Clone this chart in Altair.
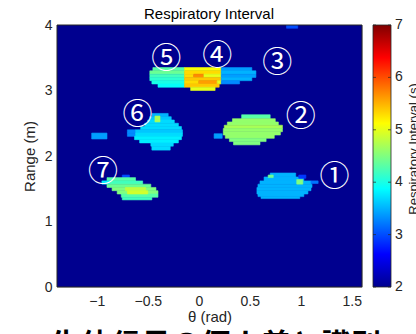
import altair as alt
import pandas as pd

# ---- data ----
# heat-map spans: (range_lo, range_hi, theta_lo, theta_hi, respiratory interval in s)
background = [(0.0, 4.0, -1.39, 1.60, 2.0)]

blob_top = [  # persons 5, 4, 3
    (3.30, 3.35, -0.45, -0.14, 4.3), (3.30, 3.35, -0.14, 0.22, 5.1), (3.30, 3.35, 0.22, 0.52, 3.4),
    (3.25, 3.30, -0.48, -0.14, 4.4), (3.25, 3.30, -0.14, 0.22, 5.3), (3.25, 3.30, 0.22, 0.56, 3.5),
    (3.20, 3.25, -0.48, -0.14, 4.2), (3.20, 3.25, -0.14, -0.05, 5.3), (3.20, 3.25, -0.05, 0.05, 5.7),
    (3.20, 3.25, 0.05, 0.22, 5.0), (3.20, 3.25, 0.22, 0.56, 3.4),
    (3.15, 3.20, -0.48, -0.14, 4.1), (3.15, 3.20, -0.14, 0.22, 5.4), (3.15, 3.20, 0.22, 0.52, 3.5),
    (3.10, 3.15, -0.46, -0.14, 4.0), (3.10, 3.15, -0.14, 0.00, 5.3), (3.10, 3.15, 0.00, 0.18, 5.6),
    (3.10, 3.15, 0.18, 0.22, 5.0), (3.10, 3.15, 0.22, 0.40, 3.3),
    (3.05, 3.10, -0.40, -0.14, 3.9), (3.05, 3.10, -0.14, 0.20, 5.4),
    (3.00, 3.05, -0.08, 0.16, 5.0),
    (3.95, 4.00, 0.86, 0.97, 3.0),
]

blob_6 = [
    (2.60, 2.65, -0.46, -0.30, 3.5),
    (2.55, 2.60, -0.48, -0.27, 3.6),
    (2.50, 2.55, -0.50, -0.24, 3.7),
    (2.45, 2.50, -0.53, -0.20, 3.7),
    (2.40, 2.45, -0.57, -0.17, 3.7),
    (2.35, 2.40, -0.70, -0.62, 3.3), (2.35, 2.40, -0.62, -0.16, 3.6),
    (2.30, 2.35, -0.70, -0.62, 3.3), (2.30, 2.35, -0.62, -0.16, 3.7),
    (2.25, 2.30, -0.63, -0.17, 3.8),
    (2.20, 2.25, -0.58, -0.20, 3.8),
    (2.15, 2.20, -0.47, -0.25, 3.7),
    (2.09, 2.15, -0.46, -0.28, 3.7),
    (2.52, 2.61, -0.43, -0.38, 4.7),
    (2.26, 2.35, -1.05, -0.90, 3.4),
]

blob_2 = [
    (2.57, 2.63, 0.42, 0.70, 4.3),
    (2.52, 2.57, 0.33, 0.75, 4.6),
    (2.47, 2.52, 0.28, 0.78, 4.6),
    (2.42, 2.47, 0.25, 0.82, 4.7),
    (2.37, 2.42, 0.24, 0.82, 4.6),
    (2.32, 2.37, 0.24, 0.80, 4.6),
    (2.27, 2.32, 0.26, 0.74, 4.6),
    (2.22, 2.27, 0.30, 0.66, 4.5),
    (2.17, 2.22, 0.34, 0.60, 4.5),
    (2.27, 2.34, 0.15, 0.23, 3.4),
]

blob_7 = [
    (1.66, 1.71, -0.75, -0.68, 3.0),
    (1.62, 1.67, -0.90, -0.62, 4.3),
    (1.57, 1.62, -0.95, -0.87, 3.8), (1.57, 1.62, -0.87, -0.55, 4.2),
    (1.52, 1.57, -0.90, -0.47, 4.4),
    (1.47, 1.52, -0.85, -0.42, 4.5),
    (1.42, 1.47, -0.80, -0.40, 4.5),
    (1.37, 1.42, -0.76, -0.40, 4.3),
    (1.33, 1.37, -0.75, -0.46, 4.2),
    (1.47, 1.52, -0.72, -0.52, 4.8),
    (1.42, 1.47, -0.70, -0.50, 4.9),
]

blob_1 = [
    (1.68, 1.74, 0.70, 0.95, 3.5),
    (1.62, 1.68, 0.64, 1.03, 3.5),
    (1.57, 1.62, 0.60, 1.10, 3.5),
    (1.52, 1.57, 0.58, 1.11, 3.5),
    (1.47, 1.52, 0.57, 1.10, 3.5),
    (1.42, 1.47, 0.57, 1.07, 3.5),
    (1.38, 1.42, 0.58, 1.03, 3.5),
    (1.35, 1.38, 0.61, 0.99, 3.5),
    (1.67, 1.71, 0.68, 0.73, 4.4),
    (1.66, 1.71, 0.98, 1.05, 2.9),
    (1.57, 1.64, 0.96, 1.02, 4.5),
    (1.58, 1.62, 1.10, 1.17, 3.2),
]

ann_labels = ["①", "②", "③", "④", "⑤", "⑥", "⑦"]
ann_theta = [1.33, 1.00, 0.77, 0.18, -0.32, -0.60, -0.94]
ann_range = [1.68, 2.59, 3.42, 3.53, 3.48, 2.62, 1.76]

x_ticks = [-1, -0.5, 0, 0.5, 1, 1.5]
y_ticks = [0, 0.5, 1, 1.5, 2, 2.5, 3, 3.5, 4]
cbar_ticks = [2, 3, 4, 5, 6, 7]

jet_domain = [2, 2.625, 3.875, 5.125, 6.375, 7]
jet_colors = ["#00008f", "#0000ff", "#00ffff", "#ffff00", "#ff0000", "#800000"]

# ---- build tables ----
rows = []
for order, span in enumerate(background + blob_top + blob_6 + blob_2 + blob_7 + blob_1):
    r0, r1, t0, t1, v = span
    rows.append({"r0": r0, "r1": r1, "t0": t0, "t1": t1, "v": v, "o": order})
cells = pd.DataFrame(rows)
ann = pd.DataFrame({"lab": ann_labels, "t": ann_theta, "r": ann_range})
cbar = pd.DataFrame({"cv": cbar_ticks, "lab": [str(c) for c in cbar_ticks]})

FONT = "Liberation Sans"
TXT = "#262626"
PW, PH = 305, 262
CB_X0, CB_X1 = 316, 334

xscale = alt.Scale(domain=[-1.39, 1.60], nice=False, zero=False)
yscale = alt.Scale(domain=[0, 4], nice=False, zero=False)
cscale = alt.Scale(domain=jet_domain, range=jet_colors, interpolate="rgb")
cbscale = alt.Scale(domain=[jet_domain[0], jet_domain[-1]], nice=False, zero=False)

heat = alt.Chart(cells).mark_rect(strokeWidth=0.6, clip=True).encode(
    x=alt.X("t0:Q", scale=xscale,
            axis=alt.Axis(title="θ (rad)", values=x_ticks, format="~g", ticks=False, domain=False,
                          grid=False, labelFontSize=14, labelFont=FONT, labelColor=TXT,
                          labelPadding=7, titleFont=FONT, titleFontSize=15,
                          titleFontWeight="normal", titleColor=TXT, titlePadding=1)),
    x2="t1:Q",
    y=alt.Y("r0:Q", scale=yscale,
            axis=alt.Axis(title="Range (m)", values=y_ticks, format="~g", ticks=False, domain=False,
                          grid=False, labelFontSize=14, labelFont=FONT, labelColor=TXT,
                          labelPadding=5, titleFont=FONT, titleFontSize=15,
                          titleFontWeight="normal", titleColor=TXT, titlePadding=7)),
    y2="r1:Q",
    color=alt.Color("v:Q", scale=cscale, legend=None),
    stroke=alt.Color("v:Q", scale=cscale, legend=None),
    order=alt.Order("o:Q"),
)

labels = alt.Chart(ann).mark_text(font="Noto Sans CJK JP", fontSize=30, color="white",
                                  align="center", baseline="middle").encode(
    x=alt.X("t:Q", scale=xscale), y=alt.Y("r:Q", scale=yscale), text="lab:N")

frame = alt.Chart(pd.DataFrame({"a": [0]})).mark_rect(fill=None, stroke=TXT, strokeWidth=1).encode(
    x=alt.value(0), x2=alt.value(PW), y=alt.value(0), y2=alt.value(PH))

# colour bar: jet gradient built from the same stops as the colour scale
span = jet_domain[-1] - jet_domain[0]
stops = [alt.GradientStop(color=c, offset=(d - jet_domain[0]) / span)
         for d, c in zip(jet_domain, jet_colors)]
cbar_rect = alt.Chart(pd.DataFrame({"a": [0]})).mark_rect(
    fill=alt.LinearGradient(gradient="linear", stops=stops, x1=0, x2=0, y1=1, y2=0),
    stroke=TXT, strokeWidth=0.8).encode(
    x=alt.value(CB_X0), x2=alt.value(CB_X1), y=alt.value(0), y2=alt.value(PH))

cbar_labels = alt.Chart(cbar).mark_text(font=FONT, fontSize=14, color=TXT, align="left",
                                        baseline="middle").encode(
    x=alt.value(CB_X1 + 4), y=alt.Y("cv:Q", scale=cbscale, axis=None), text="lab:N")

cbar_ticks_l = alt.Chart(cbar).mark_rule(color=TXT, strokeWidth=0.7).encode(
    x=alt.value(CB_X0), x2=alt.value(CB_X0 + 3), y=alt.Y("cv:Q", scale=cbscale, axis=None))
cbar_ticks_r = alt.Chart(cbar).mark_rule(color=TXT, strokeWidth=0.7).encode(
    x=alt.value(CB_X1 - 3), x2=alt.value(CB_X1), y=alt.Y("cv:Q", scale=cbscale, axis=None))

title_txt = alt.Chart(pd.DataFrame({"s": ["Respiratory Interval"]})).mark_text(
    font=FONT, fontSize=15, color="black", align="center", baseline="alphabetic").encode(
    x=alt.value(152), y=alt.value(-6), text="s:N")

cbar_title = alt.Chart(pd.DataFrame({"s": ["Respiratory Interval (s)"]})).mark_text(
    font=FONT, fontSize=13, color=TXT, angle=270, align="center", baseline="top").encode(
    x=alt.value(351), y=alt.value(124), text="s:N")

page_text = alt.Chart(pd.DataFrame({"s": ["生体信号の個人差と識別"]})).mark_text(
    font="Noto Sans CJK JP", fontSize=30, fontWeight="bold", color="black",
    align="center", baseline="top").encode(
    x=alt.value(159), y=alt.value(306), text="s:N")

main = alt.layer(heat, frame, labels, title_txt, cbar_title, page_text)
bar = alt.layer(cbar_rect, cbar_ticks_l, cbar_ticks_r, cbar_labels)

chart = alt.layer(main, bar).resolve_scale(y="independent").properties(
    width=PW, height=PH,
    autosize=alt.AutoSizeParams(type="none"),
    padding={"left": 57, "top": 25, "right": 54, "bottom": 47},
).configure_view(stroke=None).configure(background="white")

chart.save("out.html", embed_options={"renderer": "svg", "actions": False})
